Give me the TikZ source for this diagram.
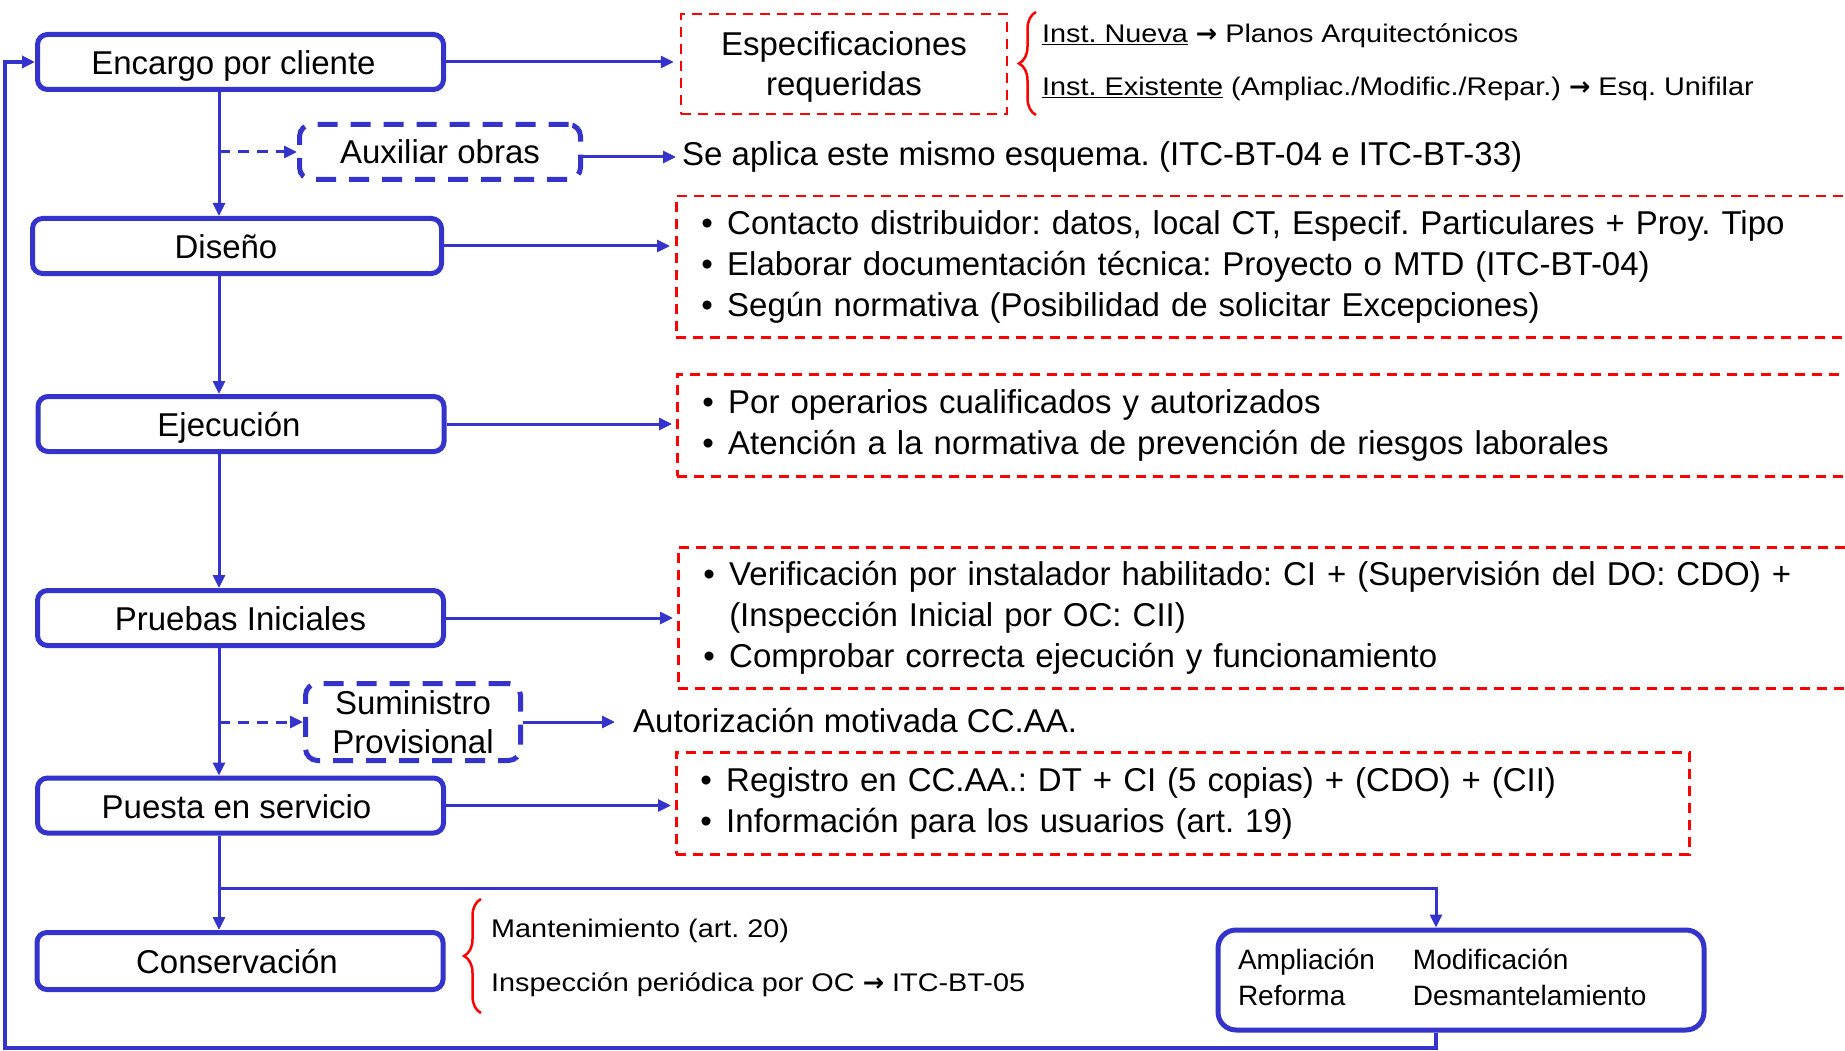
\documentclass[tikz,border=0pt]{standalone}
\usepackage{fontspec}
\setmainfont{Liberation Sans}
\newfontfamily\widefont{Liberation Sans}[FakeStretch=1.13]
\newfontfamily\arrowfont{DejaVu Sans Bold}
\usetikzlibrary{arrows.meta,decorations.pathreplacing,calc}
\definecolor{bl}{RGB}{52,52,204}
\definecolor{rd}{RGB}{255,0,0}
\newcommand{\rarr}{{\arrowfont →}}
\newcommand{\bul}{\makebox[26pt][l]{\textbullet}}
\newcommand{\ul}[1]{\underline{#1}}
\frenchspacing
\begin{document}
\begin{tikzpicture}[x=1pt,y=-1pt,
  mainbox/.style={draw=bl, line width=5pt, rounded corners=10pt, minimum width=406pt, minimum height=55pt, inner sep=0pt, text height=25pt, text depth=0pt, font=\fontsize{33}{40}\selectfont},
  auxbox/.style={draw=bl, line width=5pt, rounded corners=12pt, dash pattern=on 20pt off 13pt, inner sep=0pt, font=\fontsize{33}{39}\selectfont, align=center},
  redbox/.style={draw=rd, line width=2.5pt, dash pattern=on 10pt off 7pt, inner sep=0pt},
  bullets/.style={redbox, anchor=north west, align=left, inner xsep=24pt, font=\fontsize{33}{41}\selectfont},
  txt/.style={inner sep=0pt, anchor=west, font=\fontsize{33}{40}\selectfont},
  smalltxt/.style={inner sep=0pt, anchor=west, font=\widefont\fontsize{25.5}{30}\selectfont},
  conn/.style={draw=bl, line width=3pt, -{Triangle[length=13pt,width=12pt]}},
  dconn/.style={conn, dash pattern=on 11pt off 8pt},
  rbrace/.style={draw=rd, line width=2.5pt, decorate, decoration={brace, amplitude=17pt}}
]
\useasboundingbox (0,0) rectangle (1845,1051);
\clip (0,0) rectangle (1845,1051);

% main boxes
\node[mainbox] (enc) at (240.5,62) {Encargo por cliente\hspace*{14pt}};
\node[mainbox, minimum width=409pt] (dis) at (237,246) {Diseño\hspace*{22pt}};
\node[mainbox] (eje) at (241,424) {Ejecución\hspace*{24pt}};
\node[mainbox] (pru) at (240.5,618) {Pruebas Iniciales};
\node[mainbox] (pue) at (240.5,805.5) {Puesta en servicio\hspace*{8pt}};
\node[mainbox, minimum height=57pt] (con) at (240,961) {Conservación\hspace*{6pt}};

% dashed auxiliary boxes
\node[auxbox, minimum width=281pt, minimum height=55pt] (aux) at (440,152) {Auxiliar obras};
\node[auxbox, minimum width=215pt, minimum height=77pt] (sum) at (413,722) {Suministro\\Provisional};

% red boxes
\node[redbox, minimum width=326pt, minimum height=100pt, font=\fontsize{33}{40}\selectfont] (esp) at (844,64) {\raisebox{-4pt}[\height][\depth]{\begin{tabular}{@{}c@{}}Especificaciones\\requeridas\end{tabular}}};
\node[bullets, minimum width=1210pt, minimum height=141pt, text width=1160pt] (disr) at (675,195)
  {\bul Contacto distribuidor: datos, local CT, Especif. Particulares + Proy. Tipo\\
   \bul Elaborar documentación técnica: Proyecto o MTD (ITC-BT-04)\\
   \bul Según normativa (Posibilidad de solicitar Excepciones)};
\node[bullets, minimum width=1210pt, minimum height=102pt, text width=1160pt] (ejer) at (676,373)
  {\bul Por operarios cualificados y autorizados\\
   \bul Atención a la normativa de prevención de riesgos laborales};
\node[bullets, minimum width=1210pt, minimum height=141pt, text width=1160pt] (prur) at (677,546)
  {\bul Verificación por instalador habilitado: CI + (Supervisión del DO: CDO) +\\
   \hspace*{26pt}(Inspección Inicial por OC: CII)\\
   \bul Comprobar correcta ejecución y funcionamiento};
\node[bullets, minimum width=1013pt, minimum height=102pt, text width=965pt] (puer) at (675,751)
  {\bul Registro en CC.AA.: DT + CI (5 copias) + (CDO) + (CII)\\
   \bul Información para los usuarios (art. 19)};

% plain texts
\node[txt] (aplica) at (682,157) {Se aplica este mismo esquema. (ITC-BT-04 e ITC-BT-33)};
\node[txt] (autor) at (633,721) {Autorización motivada CC.AA.};
\node[smalltxt] (inst1) at (1042,36) {\ul{Inst. Nueva} \rarr{} Planos Arquitectónicos};
\node[smalltxt] (inst2) at (1042,89) {\ul{Inst. Existente} (Ampliac./Modific./Repar.) \rarr{} Esq. Unifilar};
\node[smalltxt] (mant) at (491,931) {Mantenimiento (art. 20)};
\node[smalltxt] (insp) at (491,985) {Inspección periódica por OC \rarr{} ITC-BT-05};

% final box
\node[draw=bl, line width=5pt, rounded corners=18pt, minimum width=486pt, minimum height=100pt, inner sep=0pt, text width=446pt, align=left, font=\fontsize{28}{36}\selectfont] (amp) at (1461,980)
  {\begin{tabular}{@{}p{175pt}@{}l@{}}Ampliación & Modificación\\ Reforma & Desmantelamiento\end{tabular}};

% braces
\draw[rbrace] (1036,115) -- (1036,12);
\draw[rbrace] (481,1013) -- (481,899);

% coordinates
\coordinate (sp) at (219,0);
\coordinate (ax) at (1436,0);
\coordinate (br) at (219,888);
\coordinate (lx) at (5,1048);

% spine
\draw[conn] (enc.south -| sp) -- (dis.north -| sp);
\draw[conn] (dis.south -| sp) -- (eje.north -| sp);
\draw[conn] (eje.south -| sp) -- (pru.north -| sp);
\draw[conn] (pru.south -| sp) -- (pue.north -| sp);
\draw[conn] (pue.south -| sp) -- (con.north -| sp);
\draw[conn] (br) -| (amp.north -| ax);
\draw[conn, line width=3.5pt] (amp.south -| ax) |- (lx) |- (enc.west);

% dashed side arrows
\draw[dconn] (aux.west -| sp) -- (aux.west);
\draw[dconn] (sum.west -| sp) -- (sum.west);

% right arrows
\draw[conn, shorten >=6pt] (enc.east) -- (enc.east -| esp.west);
\draw[conn, shorten >=6pt] (aux.east |- aplica.west) -- (aplica.west);
\draw[conn, shorten >=5pt] (dis.east) -- (dis.east -| disr.west);
\draw[conn, shorten >=4pt] (eje.east) -- (eje.east -| ejer.west);
\draw[conn, shorten >=4pt] (pru.east) -- (pru.east -| prur.west);
\draw[conn, shorten >=18pt] (sum.east) -- (sum.east -| autor.west);
\draw[conn, shorten >=4pt] (pue.east) -- (pue.east -| puer.west);
\end{tikzpicture}
\end{document}
